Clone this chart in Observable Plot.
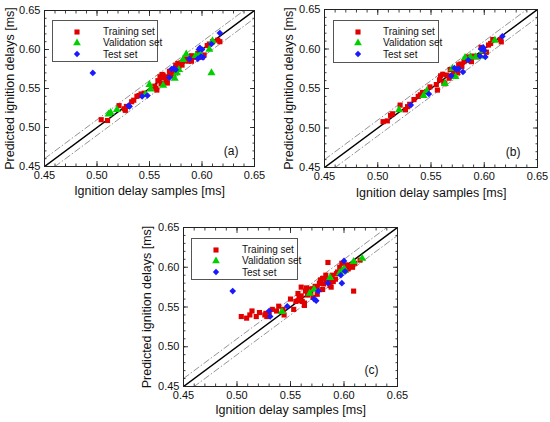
<!DOCTYPE html>
<html>
<head>
<meta charset="utf-8">
<script src="https://cdn.jsdelivr.net/npm/d3@7"></script>
<script src="https://cdn.jsdelivr.net/npm/@observablehq/plot@0.6"></script>
<style>
html,body{margin:0;padding:0;background:#fff;}
#root{position:relative;width:550px;height:422px;font-family:"Liberation Sans",Arial,sans-serif;}
.pn{position:absolute;}
.leg{position:absolute;border:1px solid #555;background:#fff;font-size:10px;color:#111;}
.leg .row{position:absolute;left:0;white-space:nowrap;}
.leg svg{position:absolute;}
</style>
</head>
<body>
<div id="root"></div>
<script>
// ---- Data: [sample, predicted] ----
const trainA = [[0.504,0.510],[0.510,0.509],[0.521,0.528],[0.526,0.524],[0.527,0.522],[0.528,0.527],[0.533,0.533],[0.535,0.535],[0.538,0.540],[0.540,0.541],[0.542,0.543],[0.545,0.544],[0.555,0.553],[0.556,0.550],[0.557,0.548],[0.558,0.560],[0.560,0.565],[0.562,0.568],[0.563,0.567],[0.561,0.556],[0.563,0.557],[0.565,0.565],[0.566,0.562],[0.569,0.572],[0.570,0.567],[0.572,0.573],[0.574,0.571],[0.575,0.580],[0.577,0.582],[0.578,0.578],[0.580,0.583],[0.581,0.580],[0.582,0.585],[0.585,0.588],[0.587,0.585],[0.590,0.585],[0.590,0.592],[0.593,0.590],[0.596,0.595],[0.600,0.590],[0.602,0.593],[0.605,0.605],[0.607,0.607],[0.610,0.610],[0.615,0.612],[0.617,0.610],[0.562,0.564],[0.573,0.569],[0.567,0.557]];
const validA = [[0.511,0.517],[0.513,0.519],[0.519,0.523],[0.550,0.555],[0.551,0.549],[0.563,0.554],[0.574,0.563],[0.576,0.570],[0.582,0.587],[0.585,0.594],[0.594,0.592],[0.598,0.595],[0.607,0.600],[0.609,0.570],[0.610,0.611],[0.546,0.542],[0.578,0.574]];
const testA = [[0.496,0.570],[0.530,0.528],[0.531,0.527],[0.543,0.540],[0.548,0.541],[0.569,0.564],[0.571,0.575],[0.573,0.576],[0.575,0.574],[0.588,0.588],[0.596,0.588],[0.597,0.600],[0.598,0.602],[0.600,0.600],[0.601,0.590],[0.609,0.607],[0.617,0.621],[0.599,0.591]];

const trainB = [[0.505,0.508],[0.509,0.509],[0.512,0.516],[0.514,0.518],[0.521,0.529],[0.526,0.523],[0.528,0.527],[0.530,0.530],[0.534,0.536],[0.538,0.540],[0.540,0.542],[0.542,0.545],[0.546,0.546],[0.549,0.552],[0.556,0.548],[0.555,0.555],[0.558,0.561],[0.559,0.566],[0.561,0.568],[0.562,0.558],[0.563,0.556],[0.565,0.567],[0.568,0.574],[0.570,0.574],[0.572,0.570],[0.574,0.572],[0.576,0.580],[0.578,0.581],[0.579,0.578],[0.581,0.584],[0.583,0.588],[0.585,0.590],[0.587,0.586],[0.588,0.584],[0.590,0.591],[0.593,0.590],[0.597,0.602],[0.599,0.597],[0.602,0.596],[0.604,0.605],[0.606,0.607],[0.608,0.612],[0.615,0.612],[0.616,0.609],[0.567,0.563],[0.575,0.570]];
const validB = [[0.520,0.523],[0.543,0.541],[0.546,0.547],[0.563,0.556],[0.573,0.565],[0.582,0.589],[0.587,0.590],[0.592,0.590],[0.596,0.591],[0.599,0.598],[0.610,0.611],[0.570,0.575]];
const testB = [[0.531,0.529],[0.548,0.543],[0.569,0.566],[0.572,0.576],[0.574,0.574],[0.576,0.575],[0.580,0.571],[0.585,0.586],[0.596,0.591],[0.597,0.600],[0.599,0.602],[0.601,0.590],[0.617,0.616],[0.600,0.598]];

const trainC = [[0.504,0.538],[0.509,0.536],[0.512,0.540],[0.514,0.545],[0.518,0.538],[0.521,0.543],[0.526,0.540],[0.527,0.542],[0.528,0.538],[0.530,0.543],[0.533,0.547],[0.537,0.545],[0.539,0.551],[0.544,0.540],[0.543,0.547],[0.550,0.560],[0.553,0.547],[0.555,0.557],[0.557,0.558],[0.558,0.562],[0.560,0.564],[0.561,0.557],[0.563,0.555],[0.563,0.552],[0.564,0.570],[0.565,0.574],[0.566,0.565],[0.568,0.572],[0.570,0.573],[0.571,0.562],[0.573,0.576],[0.575,0.575],[0.577,0.580],[0.578,0.584],[0.580,0.586],[0.581,0.579],[0.583,0.590],[0.584,0.585],[0.585,0.606],[0.587,0.583],[0.587,0.577],[0.588,0.575],[0.590,0.582],[0.592,0.585],[0.594,0.594],[0.596,0.600],[0.600,0.596],[0.602,0.603],[0.604,0.598],[0.605,0.601],[0.607,0.603],[0.608,0.600],[0.609,0.570],[0.610,0.605],[0.615,0.609],[0.569,0.568],[0.557,0.567],[0.575,0.566],[0.580,0.572],[0.589,0.590],[0.598,0.605],[0.593,0.592],[0.560,0.575]];
const validC = [[0.542,0.544],[0.568,0.567],[0.572,0.572],[0.587,0.587],[0.596,0.593],[0.598,0.595],[0.600,0.598],[0.601,0.596],[0.609,0.607],[0.617,0.611]];
const testC = [[0.496,0.570],[0.530,0.545],[0.531,0.538],[0.547,0.551],[0.572,0.560],[0.574,0.558],[0.576,0.570],[0.585,0.580],[0.597,0.590],[0.598,0.580],[0.600,0.608],[0.601,0.595]];

const axisDomain = [0.45, 0.65];
const majorTicks = [0.45, 0.50, 0.55, 0.60, 0.65];
const minorTicks = d3.range(45, 66).map(d => d / 100);
const bandOffsets = [-0.01, 0.01];
const seriesNames = ["Training set", "Validation set", "Test set"];
const seriesColors = ["#e00000", "#00d000", "#1a1aff"];
const seriesSymbols = ["square", "triangle", "diamond2"];
const xLabel = "Ignition delay samples [ms]";
const yLabel = "Predicted ignition delays [ms]";

function panel(sets, tag, m) {
  const dots = sets.map((s, i) => Plot.dot(s, {
    x: d => d[0], y: d => d[1], symbol: () => seriesSymbols[i],
    fill: seriesColors[i], stroke: "none", r: i === 0 ? 2.9 : 3.0
  }));
  const edge = (anchor, k) => {
    const A = k === "x" ? Plot.axisX : Plot.axisY;
    return [
      A({anchor, ticks: minorTicks, tickSize: -2.5, tickFormat: () => "", label: null, strokeWidth: 0.8}),
      A({anchor, ticks: majorTicks, tickSize: -5, tickFormat: () => "", label: null, strokeWidth: 0.8})
    ];
  };
  return Plot.plot({
    width: m.w, height: m.h,
    marginLeft: m.l, marginRight: m.r, marginTop: m.t, marginBottom: m.b,
    style: {fontFamily: '"Liberation Sans", Arial, sans-serif', fontSize: "11px", color: "#111", background: "white"},
    x: {domain: axisDomain},
    y: {domain: axisDomain},
    marks: [
      Plot.link(bandOffsets, {
        x1: () => axisDomain[0], y1: d => axisDomain[0] + d,
        x2: () => axisDomain[1], y2: d => axisDomain[1] + d,
        stroke: "#777", strokeWidth: 0.8, strokeDasharray: "7,2,1.5,2", clip: true
      }),
      Plot.link([0], {
        x1: () => axisDomain[0], y1: () => axisDomain[0],
        x2: () => axisDomain[1], y2: () => axisDomain[1],
        stroke: "black", strokeWidth: 1.5, clip: true
      }),
      ...dots,
      ...edge("top", "x"), ...edge("right", "y"),
      ...edge("bottom", "x"), ...edge("left", "y"),
      Plot.axisX({anchor: "bottom", ticks: majorTicks, tickSize: 0, tickPadding: 5, tickFormat: d3.format(".2f"),
        label: null, fontSize: 11}),
      Plot.axisY({anchor: "left", ticks: majorTicks, tickSize: 0, tickPadding: 4, tickFormat: d3.format(".2f"),
        label: null, fontSize: 11}),
      Plot.text([xLabel], {frameAnchor: "bottom", dy: m.xo, fontSize: 12.5, lineAnchor: "middle", textAnchor: "middle"}),
      Plot.text([yLabel], {frameAnchor: "left", dx: m.yo, rotate: -90, fontSize: 12.5, lineAnchor: "middle", textAnchor: "middle"}),
      Plot.frame({stroke: "#222", strokeWidth: 1}),
      Plot.text([tag], {frameAnchor: "bottom-right", dx: m.tdx, dy: m.tdy, fontSize: 12, textAnchor: "end"})
    ]
  });
}

const panels = [
  {sets: [trainA, validA, testA], tag: "(a)", pos: [0, 0],
   m: {w: 275, h: 210, l: 44, r: 21, t: 10, b: 44, xo: 24, yo: -35, tdx: -16, tdy: -12},
   leg: {x: 52, y: 20, w: 104, h: 40, mx: 24, tx: 50}},
  {sets: [trainB, validB, testB], tag: "(b)", pos: [275, 0],
   m: {w: 275, h: 210, l: 49, r: 13, t: 9, b: 43, xo: 25, yo: -36, tdx: -17, tdy: -12},
   leg: {x: 333, y: 20, w: 104, h: 41, mx: 24, tx: 49}},
  {sets: [trainC, validC, testC], tag: "(c)", pos: [140, 210],
   m: {w: 275, h: 212, l: 43, r: 18, t: 17, b: 36, xo: 23, yo: -37, tdx: -19, tdy: -13},
   leg: {x: 191, y: 238, w: 105, h: 40, mx: 24, tx: 50}}
];

const root = document.getElementById("root");
for (const p of panels) {
  const wrap = document.createElement("div");
  wrap.className = "pn";
  wrap.style.left = p.pos[0] + "px";
  wrap.style.top = p.pos[1] + "px";
  wrap.appendChild(panel(p.sets, p.tag, p.m));
  root.appendChild(wrap);

  const L = p.leg;
  const leg = document.createElement("div");
  leg.className = "leg";
  Object.assign(leg.style, {left: L.x + "px", top: L.y + "px", width: L.w + "px", height: L.h + "px"});
  seriesNames.forEach((name, i) => {
    const cy = 10.5 + i * 11.3;
    const g = d3.create("svg").attr("width", 10).attr("height", 10)
      .style("left", (L.mx - 5) + "px").style("top", (cy - 5) + "px");
    g.append("path").attr("transform", "translate(5,5)")
      .attr("d", d3.symbol(i === 0 ? d3.symbolSquare : i === 1 ? d3.symbolTriangle : d3.symbolDiamond2, 26)())
      .attr("fill", seriesColors[i]);
    leg.appendChild(g.node());
    const t = document.createElement("div");
    t.className = "row";
    t.textContent = name;
    Object.assign(t.style, {left: L.tx + "px", top: (cy - 5.5) + "px", lineHeight: "11px", height: "11px"});
    leg.appendChild(t);
  });
  root.appendChild(leg);
}
</script>
</body>
</html>
